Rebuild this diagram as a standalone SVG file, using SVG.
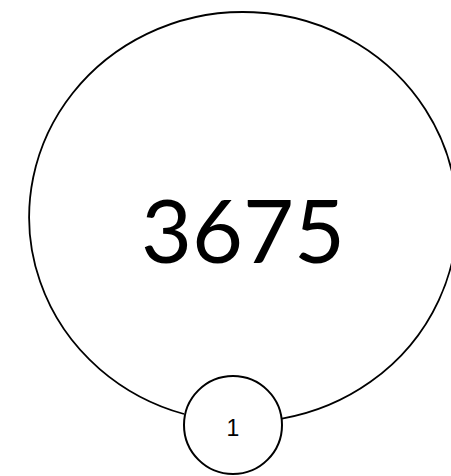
<svg xmlns="http://www.w3.org/2000/svg" width="451" height="476" viewBox="0 0 451 476">
<style>
.edge{fill:none;stroke:#000;stroke-width:1.8}
.node{fill:#fff;stroke:#000;stroke-width:2}
.big{font-family:"Lato","Liberation Sans",sans-serif;font-weight:400;font-size:88px;fill:#000;text-anchor:middle}
.lbl{font-family:"Liberation Sans",Arial,sans-serif;font-size:23px;fill:#000;text-anchor:middle}
</style>
<rect width="451" height="476" fill="#fff"/>
<g id="connectors">
<path class="edge" d="M184,414 A214,205 0 1,1 282,418.6"/>
<text class="big" x="243" y="263">3675</text>
</g>
<g id="node-1">
<circle class="node" cx="233" cy="425" r="49"/>
<text class="lbl" x="233" y="436">1</text>
</g>
</svg>
